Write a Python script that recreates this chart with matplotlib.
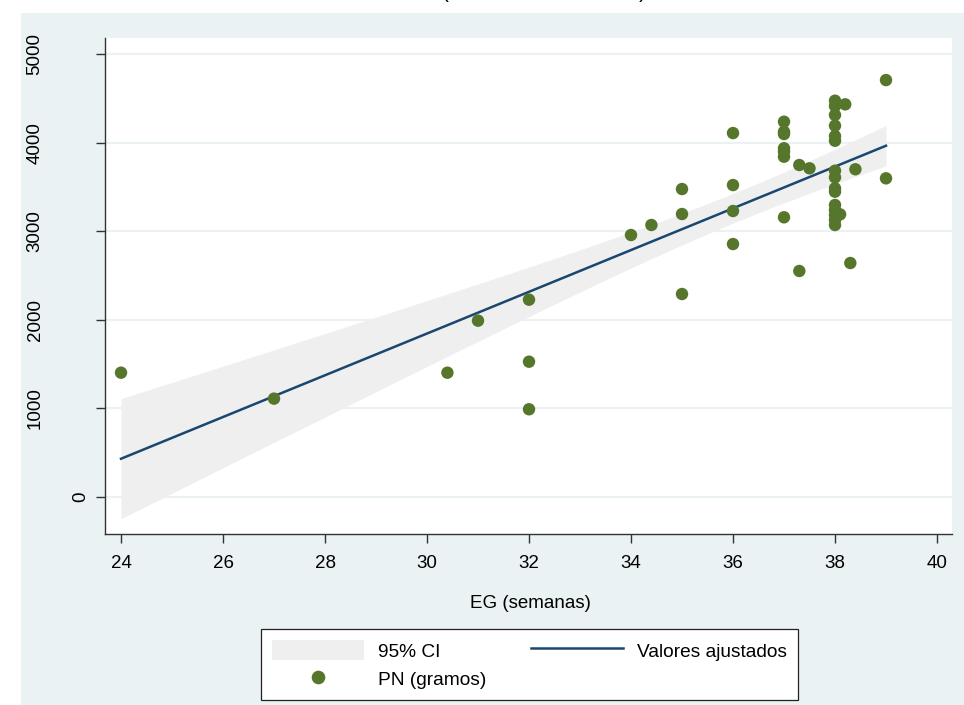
import numpy as np
import matplotlib
matplotlib.use("Agg")
import matplotlib.pyplot as plt
import matplotlib.transforms as mtransforms
from matplotlib.patches import Rectangle, Patch
from matplotlib.lines import Line2D

plt.rcParams['font.family'] = ['Liberation Sans', 'DejaVu Sans']

# ---- data (EG in weeks, PN in grams) ----
eg = [24, 27, 30.4, 31, 32, 32, 32,
      34, 34.4, 35, 35, 35, 36, 36, 36, 36,
      37, 37, 37, 37, 37, 37, 37, 37.3, 37.5, 37.3,
      38, 38, 38, 38, 38, 38, 38, 38, 38, 38, 38, 38, 38, 38, 38,
      38.1, 38.2, 38.3, 38.4, 39, 39]
pn = [1403, 1110, 1403, 1990, 2227, 1527, 990,
      2957, 3070, 3476, 3194, 2291, 4108, 3521, 3228, 2855,
      4236, 4123, 4097, 3936, 3898, 3841, 3157, 3747, 3710, 2551,
      4473, 4413, 4312, 4191, 4074, 4021, 3683, 3608, 3484, 3446,
      3296, 3239, 3183, 3126, 3070,
      3190, 4432, 2641, 3699, 4706, 3597]

xticks = [24, 26, 28, 30, 32, 34, 36, 38, 40]
yticks = [0, 1000, 2000, 3000, 4000, 5000]
t_crit = 2.014  # t(0.975, df=45)

x = np.array(eg, float)
y = np.array(pn, float)
n = len(x)
b1, b0 = np.polyfit(x, y, 1)
resid = y - (b0 + b1 * x)
s = np.sqrt(np.sum(resid ** 2) / (n - 2))
xbar = x.mean()
sxx = np.sum((x - xbar) ** 2)
xg = np.linspace(x.min(), x.max(), 200)
yg = b0 + b1 * xg
se = s * np.sqrt(1.0 / n + (xg - xbar) ** 2 / sxx)
lo, hi = yg - t_crit * se, yg + t_crit * se

# ---- figure ----
W, H = 964, 705
FS = 13.5
fig = plt.figure(figsize=(W / 100, H / 100), dpi=100)
fig.patch.set_facecolor('white')
bg = '#EAF2F3'
fig.add_artist(Rectangle((21 / W, 0), 1 - 21 / W, 1 - 13 / H,
                         transform=fig.transFigure, facecolor=bg,
                         edgecolor='none', zorder=0))

ax = fig.add_axes([105 / W, 1 - 534 / H, (952 - 105) / W, (534 - 38) / H])
ax.set_facecolor('white')
ax.set_xlim(23.686, 40.294)
ax.set_ylim(-418, 5181)

for yt in yticks:
    ax.axhline(yt, color=bg, lw=1.5, zorder=0.5)

ci_col = '#EFEFEF'
line_col = '#1A476F'
pt_col = '#56762C'
ax.fill_between(xg, lo, hi, color=ci_col, lw=0, zorder=1)
ax.plot(xg, yg, color=line_col, lw=1.8, zorder=2)
ax.scatter(x, y, s=80, color=pt_col, edgecolors='none', zorder=3)

for sp in ['top', 'right']:
    ax.spines[sp].set_visible(False)
for sp in ['left', 'bottom']:
    ax.spines[sp].set_color('#333333')
    ax.spines[sp].set_linewidth(1.0)

ax.set_xticks(xticks)
ax.set_yticks(yticks)
ax.set_yticklabels([])
ax.tick_params(axis='both', direction='out', length=6.2, width=1,
               color='#333333', labelsize=FS)
ax.tick_params(axis='x', pad=9)

# vertical y tick labels, placed the way the original software places them
tr = mtransforms.blended_transform_factory(fig.transFigure, ax.transData)
for yt in yticks:
    lab = str(yt)
    cx = 81 - (len(lab) - 1) * 15.3
    ax.text(cx / W, yt, lab, transform=tr, rotation=90, ha='center',
            va='center', fontsize=FS, clip_on=False)

fig.text(530 / W, 1 - 603 / H, 'EG (semanas)', ha='center', va='center',
         fontsize=FS)

fig.text(544 / W, 1 + 2 / H, '(Peso al nacer vs EG)', ha='center',
         va='baseline', fontsize=15)

handles = [Patch(facecolor=ci_col, edgecolor='none'),
           Line2D([], [], marker='o', color=pt_col, lw=0, markersize=8.8),
           Line2D([], [], color=line_col, lw=1.8)]
labels = ['95% CI', 'PN (gramos)', 'Valores ajustados']
leg = fig.legend(handles, labels, ncol=2, loc='upper left',
                 bbox_to_anchor=(261 / W, 1 - 629 / H),
                 fontsize=13.8, frameon=True, fancybox=False, framealpha=1,
                 handlelength=4.8, handleheight=1.25, columnspacing=2.3,
                 labelspacing=0.42, borderpad=0.58, handletextpad=0.73,
                 borderaxespad=0)
leg.get_frame().set_edgecolor('#222222')
leg.get_frame().set_linewidth(0.9)
leg.get_frame().set_facecolor('white')

fig.savefig('out.png', dpi=100)
